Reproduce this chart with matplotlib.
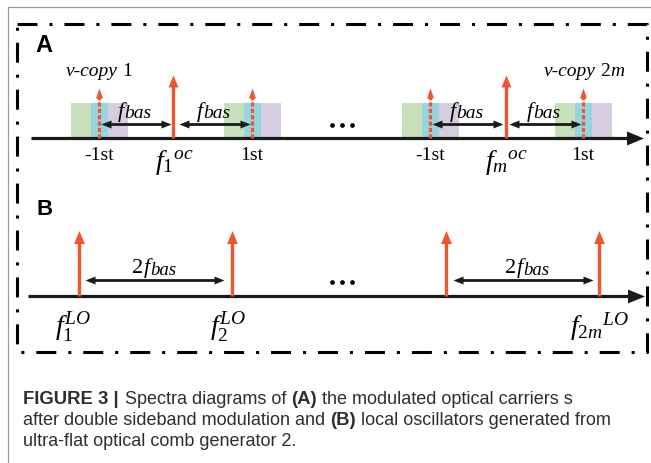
import matplotlib
matplotlib.use('Agg')
import matplotlib.pyplot as plt

# ---------------- data (schematic positions along the frequency axes, px) ----------------
a_carriers = [173, 506]
a_carrier_labels = [r'$f_1{}^{oc}$', r'$f_m{}^{oc}$']
a_carrier_label_x = [155, 485]
a_sidebands = [99, 252, 430, 583]
a_sideband_labels = ['-1st', '1st', '-1st', '1st']
a_fbas_spans = [(101, 171), (179, 250), (432, 503), (509, 581)]
vcopy_numbers = [('1', ''), ('2', 'm')]
vcopy_x = [99, 584]
dots_x = [332, 342, 352]

b_los = [79, 232, 446, 599]
b_lo_labels = [r'$f_1^{LO}$', r'$f_2^{LO}$', None, r'$f_{2m}{}^{LO}$']
b_lo_label_x = [55, 210, None, 570]
b_fbas_spans = [(85, 224), (453, 593)]
b_fbas_label_x = [154.5, 527]

caption_lines = [
    [("FIGURE 3 |", 'b'), ("Spectra diagrams of", 'r'), ("(A)", 'b'),
     ("the modulated optical carriers s", 'r')],
    [("after double sideband modulation and", 'r'), ("(B)", 'b'),
     ("local oscillators generated from", 'r')],
    [("ultra-flat optical comb generator 2.", 'r')],
]

# ---------------- style ----------------
RED = '#F0552D'
GREEN = '#C8E0B9'
CYAN = '#96D4DE'
PURPLE = '#D7CDE1'
plt.rcParams['lines.scale_dashes'] = False
plt.rcParams['mathtext.fontset'] = 'custom'
plt.rcParams['mathtext.rm'] = 'Liberation Serif'
plt.rcParams['mathtext.it'] = 'Liberation Serif:italic'
plt.rcParams['mathtext.bf'] = 'Liberation Serif:bold'

fig = plt.figure(figsize=(6.51, 4.63), dpi=100)
ax = fig.add_axes([0, 0, 1, 1])
ax.set_xlim(0, 651)
ax.set_ylim(463, 0)
ax.axis('off')
R = fig.canvas.get_renderer()
PX = 0.72  # points per pixel


def pieces(x, y, parts, ha='center'):
    """parts: list of (text, fontdict, dy, gap_before)"""
    texts, widths, gaps = [], [], []
    for s, fd, dy, gap in parts:
        t = ax.text(0, y + dy, s, va='baseline', ha='left', **fd)
        widths.append(t.get_window_extent(R).width)
        texts.append(t)
        gaps.append(gap)
    total = sum(widths) + sum(gaps)
    x0 = x - total / 2 if ha == 'center' else x
    for t, w, g in zip(texts, widths, gaps):
        x0 += g
        t.set_x(x0)
        x0 += w
    return x0


serif = dict(family='Liberation Serif')
serif_it = dict(family='Liberation Serif', style='italic')

# outer light-gray border
ax.plot([8, 651], [7, 7], color='#9a9a9a', lw=0.9)
ax.plot([8, 8], [7, 463], color='#9a9a9a', lw=0.9)

# dash-dot frame
ax.plot([17, 647, 647, 17, 17], [24, 24, 352, 352, 24], color='black', lw=2.2,
        linestyle=(0, (14.4, 8.6, 2.2, 8.6)), dash_capstyle='butt', solid_joinstyle='miter')

# arrowhead marker shapes
ax_head = [(-1, -0.82), (1, 0), (-1, 0.82), (-1, -0.82)]
left_head = [(1, -0.8), (-1, 0), (1, 0.8), (1, -0.8)]
right_head = [(-1, -0.8), (1, 0), (-1, 0.8), (-1, -0.8)]
up_head = [(-0.83, -1), (0, 1), (0.83, -1), (-0.83, -1)]
up_head_thin = [(-0.7, -1), (0, 1), (0.7, -1), (-0.7, -1)]


def freq_axis(y, x0, x1):
    ax.plot([x0, x1 - 16], [y, y], color='#1a1a1a', lw=2.3, solid_capstyle='butt', zorder=3)
    ax.plot([x1 - 8.5], [y], marker=ax_head, ms=17 * PX, color='#1a1a1a', mew=0, zorder=3)


def dbl_arrow(x1, x2, y):
    ax.plot([x1 + 4, x2 - 4], [y, y], color='#1a1a1a', lw=2.0, solid_capstyle='butt')
    ax.plot([x1 + 5], [y], marker=left_head, ms=10 * PX, color='#1a1a1a', mew=0)
    ax.plot([x2 - 5], [y], marker=right_head, ms=10 * PX, color='#1a1a1a', mew=0)


def red_arrow(x, ybase, ytip, h):
    ax.plot([x, x], [ybase, ytip + h - 1], color=RED, lw=2.4, solid_capstyle='butt', zorder=4)
    ax.plot([x], [ytip + h / 2], marker=up_head, ms=h * PX, color=RED, mew=0, zorder=4)


# ---------------- panel A ----------------
yA = 138
ax.text(35, 52, 'A', family='Liberation Sans', weight='bold', fontsize=17)
for sx in a_sidebands:
    ax.add_patch(plt.Rectangle((sx - 28, 103), 20, yA - 103, color=GREEN, lw=0, zorder=1))
    ax.add_patch(plt.Rectangle((sx - 8, 103), 17, yA - 103, color=CYAN, lw=0, zorder=1))
    ax.add_patch(plt.Rectangle((sx + 9, 103), 20, yA - 103, color=PURPLE, lw=0, zorder=1))
    ax.plot([sx, sx], [yA, 97], color=RED, lw=2.3, linestyle=(0, (3.0, 1.6)),
            dash_capstyle='butt', zorder=4)
    ax.plot([sx], [88 + 5], marker=up_head_thin, ms=10 * PX, color=RED, mew=0, zorder=4)
freq_axis(yA, 31, 643)
for cx in a_carriers:
    red_arrow(cx, yA, 75, 12)
for x1, x2 in a_fbas_spans:
    dbl_arrow(x1, x2, 124)
    pieces((x1 + x2) / 2 - 1, 117, [("f", dict(serif_it, fontsize=16), 0, 0),
                                    ("bas", dict(serif_it, fontsize=14), 1.5, 0.5)])
for sx, lab in zip(a_sidebands, a_sideband_labels):
    ax.text(sx, 160, lab, ha='center', va='baseline', fontsize=14, **serif)
for lx, lab in zip(a_carrier_label_x, a_carrier_labels):
    ax.text(lx, 169, lab, ha='left', va='baseline', fontsize=20)
for vx, (num, it) in zip(vcopy_x, vcopy_numbers):
    parts = [("v-copy", dict(serif_it, fontsize=14), 0, 0),
             (num, dict(serif, fontsize=14), 0, 4)]
    if it:
        parts.append((it, dict(serif_it, fontsize=14), 0, 0))
    pieces(vx, 76.5, parts)
ax.plot(dots_x, [125] * 3, 'o', color='black', ms=3.4, mew=0)

# ---------------- panel B ----------------
yB = 296
ax.text(37, 215, 'B', family='Liberation Sans', weight='bold', fontsize=16)
freq_axis(yB, 28, 644)
for lx in b_los:
    red_arrow(lx, yB, 230, 13)
for (x1, x2), cx in zip(b_fbas_spans, b_fbas_label_x):
    dbl_arrow(x1, x2, 280)
    pieces(cx, 273, [("2", dict(serif, fontsize=16), 0, 0),
                     ("f", dict(serif_it, fontsize=16), 0, 0.5),
                     ("bas", dict(serif_it, fontsize=13.5), 2, 0.5)])
for lx, lab in zip(b_lo_label_x, b_lo_labels):
    if lab:
        ax.text(lx, 335, lab, ha='left', va='baseline', fontsize=20)
ax.plot(dots_x, [282] * 3, 'o', color='black', ms=3.4, mew=0)

# ---------------- caption ----------------
reg = dict(family='Liberation Sans', fontsize=13)
t = ax.text(0, 0, caption_lines[2][0][0], **reg)
w = t.get_window_extent(R).width
t.remove()
reg['fontsize'] = reg['fontsize'] * 272.0 / w
bold = dict(family='Liberation Sans', weight='bold', fontsize=13.3)
cap_color = '#2e2e2e'
for i, line in enumerate(caption_lines):
    parts = []
    for j, (s, kind) in enumerate(line):
        fd = dict(bold if kind == 'b' else reg, color=cap_color)
        gap = 0 if j == 0 else (6 if line[j - 1][0].endswith('|') else 5)
        parts.append((s, fd, 0, gap))
    pieces(23, 404 + 21 * i, parts, ha='left')

fig.savefig('out.png', dpi=100)
